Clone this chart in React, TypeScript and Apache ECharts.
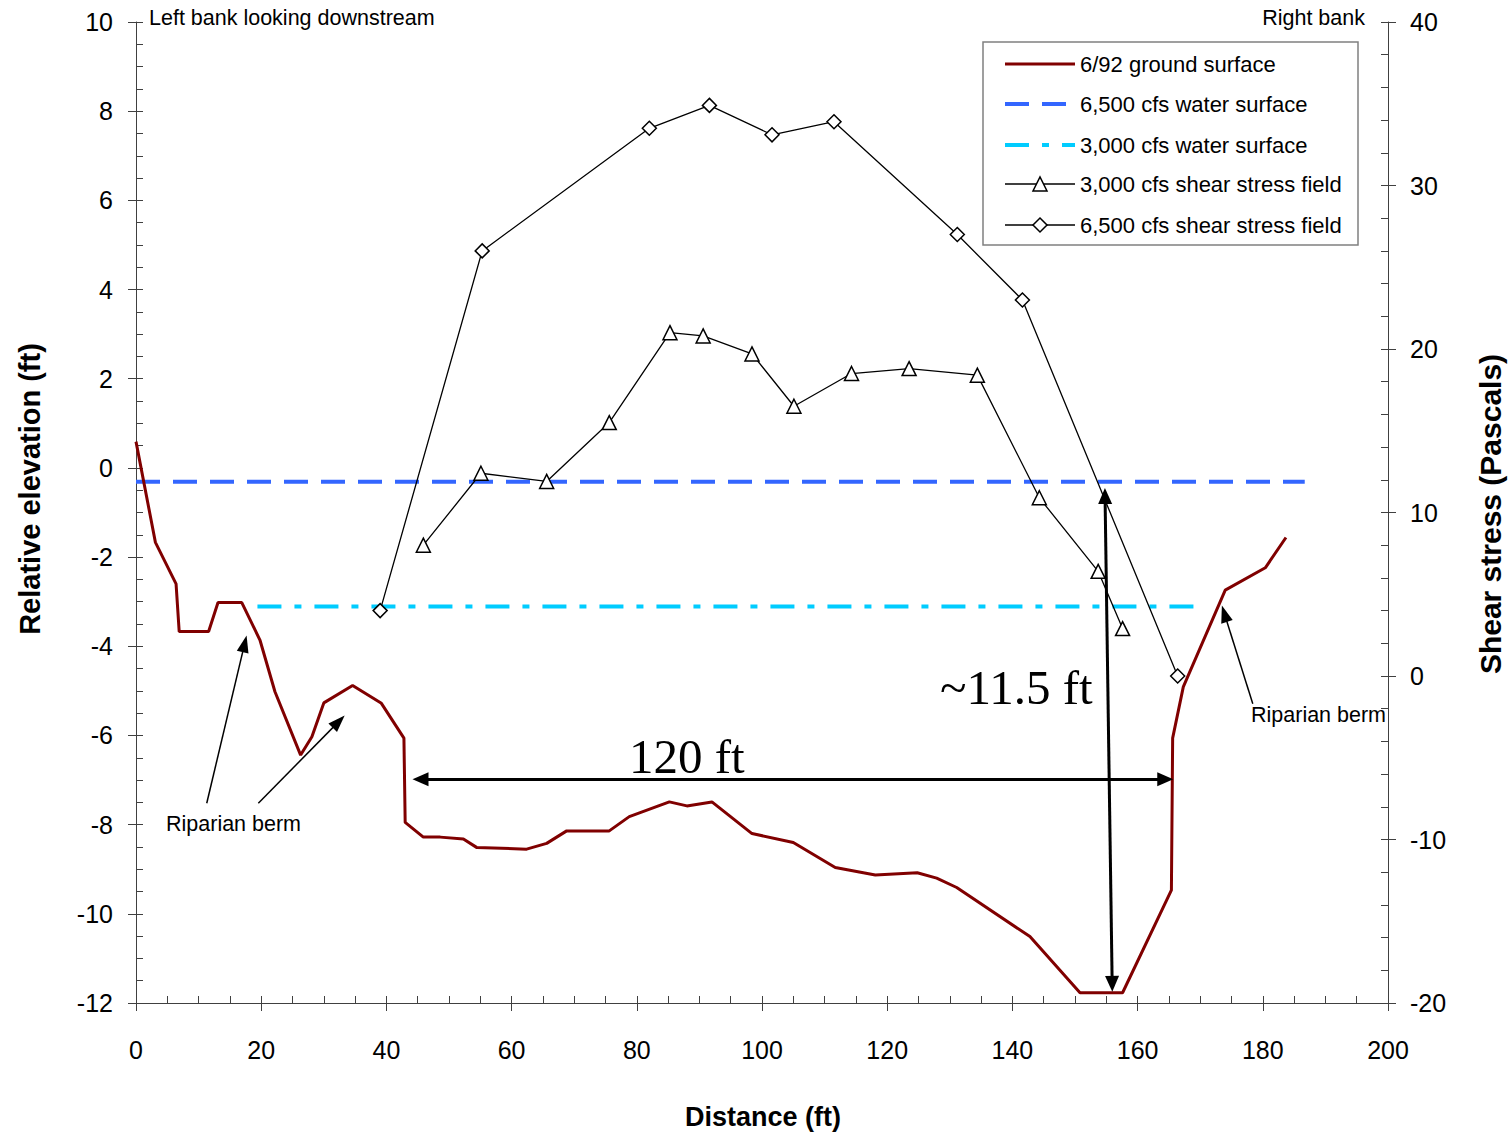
import React, { useEffect, useRef } from 'react';
import * as echarts from 'echarts';

// ---------------- data ----------------
// 6/92 ground surface: [distance (ft), relative elevation (ft)]
const groundSurface: [number, number][] = [
  [0, 0.59], [3.1, -1.67], [6.4, -2.6], [6.9, -3.67], [11.6, -3.67], [13.1, -3.02],
  [16.9, -3.02], [19.8, -3.86], [22.2, -5.02], [26.3, -6.44], [28.1, -6.03], [30.0, -5.27],
  [34.6, -4.88], [39.2, -5.28], [42.8, -6.06], [43.0, -7.95], [45.9, -8.28], [48.6, -8.28],
  [52.3, -8.32], [54.4, -8.51], [62.4, -8.55], [65.6, -8.42], [68.8, -8.14], [75.6, -8.14],
  [78.8, -7.82], [85.2, -7.49], [88.0, -7.58], [92.0, -7.49], [98.4, -8.2], [105.0, -8.4],
  [111.7, -8.96], [118.1, -9.13], [124.8, -9.08], [127.9, -9.2], [131.1, -9.41], [142.8, -10.51],
  [150.8, -11.77], [157.6, -11.77], [165.4, -9.47], [165.6, -6.06], [167.3, -4.91], [174.0, -2.74],
  [180.4, -2.24], [183.7, -1.56],
];

// water surfaces: [distance (ft), elevation (ft)]
const water6500: [number, number][] = [[0, -0.31], [186.7, -0.31]];
const water3000: [number, number][] = [[19.4, -3.11], [170.0, -3.11]];

// shear stress fields: [distance (ft), shear stress (Pa)]
const shear3000: [number, number][] = [
  [45.9, 8.0], [55.1, 12.4], [65.6, 11.9], [75.6, 15.5], [85.3, 21.0], [90.6, 20.8],
  [98.4, 19.7], [105.1, 16.5], [114.3, 18.5], [123.5, 18.8], [134.4, 18.4], [144.3, 10.9],
  [153.7, 6.4], [157.6, 2.9],
];
const shear6500: [number, number][] = [
  [39.0, 4.0], [55.3, 26.0], [82.0, 33.5], [91.6, 34.9], [101.6, 33.1], [111.5, 33.9],
  [131.2, 27.0], [141.6, 23.0], [166.4, 0.0],
];

// annotation arrows in data coordinates (distance, elevation)
const widthArrow: [number, number][] = [[45.45, -6.98], [164.42, -6.98]];
const depthArrow: [number, number][] = [[154.8, -0.63], [155.94, -11.57]];
const bermArrows: [number, number][][] = [
  [[11.3, -7.52], [17.35, -3.945]],
  [[19.54, -7.52], [32.38, -5.69]],
  [[178.4, -5.29], [173.87, -3.27]],
];

const seriesNames = [
  '6/92 ground surface',
  '6,500 cfs water surface',
  '3,000 cfs water surface',
  '3,000 cfs shear stress field',
  '6,500 cfs shear stress field',
];

const xTicks = { min: 0, max: 200, interval: 20 };
const yLeftTicks = { min: -12, max: 10, interval: 2 };
const yRightTicks = { min: -20, max: 40, interval: 10 };

// ---------------- styles ----------------
const SANS = "'Liberation Sans', Arial, Helvetica, sans-serif";
const SERIF = "'Liberation Serif', 'Times New Roman', serif";
const AXIS_COLOR = '#404040';
const C_GROUND = '#800000';
const C_W6500 = '#3366FF';
const C_W3000 = '#00CCFF';
const DASH_6500 = [24, 13];
const DASH_3000 = [24, 13, 7, 13];

function primaryAxisCommon(minorSplit: number, margin: number) {
  return {
    type: 'value',
    axisLine: { show: true, onZero: false, lineStyle: { color: AXIS_COLOR, width: 1 } },
    axisTick: { show: true, inside: true, length: 7, lineStyle: { color: AXIS_COLOR, width: 1 } },
    minorTick: { show: true, splitNumber: minorSplit, length: 7, lineStyle: { color: AXIS_COLOR, width: 1 } },
    axisLabel: { show: true, margin, fontSize: 25, color: '#000', fontFamily: SANS },
    splitLine: { show: false },
    minorSplitLine: { show: false },
  };
}
function overlayAxisCommon() {
  return {
    type: 'value',
    axisLine: { show: false, onZero: false },
    axisTick: { show: true, inside: false, length: 8, lineStyle: { color: AXIS_COLOR, width: 1 } },
    minorTick: { show: false },
    axisLabel: { show: false },
    splitLine: { show: false },
  };
}

function buildLegend() {
  const boxX = 983, boxY = 42, boxW = 375, boxH = 203;
  const rowY = [64, 104, 145, 184, 225];
  const lx0 = 1005, lx1 = 1075, mx = 1040, tx = 1080;
  const els: any[] = [
    {
      type: 'rect', z: 90,
      shape: { x: boxX, y: boxY, width: boxW, height: boxH },
      style: { fill: '#fff', stroke: '#808080', lineWidth: 1.5 },
    },
  ];
  const lineStyles = [
    { stroke: C_GROUND, lineWidth: 3 },
    { stroke: C_W6500, lineWidth: 4, lineDash: DASH_6500 },
    { stroke: C_W3000, lineWidth: 4, lineDash: DASH_3000 },
    { stroke: '#000', lineWidth: 1.3 },
    { stroke: '#000', lineWidth: 1.3 },
  ];
  seriesNames.forEach((name, i) => {
    const y = rowY[i];
    els.push({
      type: 'line', z: 91,
      shape: { x1: lx0, y1: y, x2: lx1, y2: y },
      style: { ...lineStyles[i], lineCap: 'butt' },
    });
    els.push({
      type: 'text', z: 92, x: tx, y,
      style: { text: name, fontSize: 22, fontFamily: SANS, fill: '#000', align: 'left', verticalAlign: 'middle' },
    });
  });
  const h = 7;
  els.push({
    type: 'polygon', z: 93,
    shape: { points: [[mx - h, rowY[3] + h], [mx + h, rowY[3] + h], [mx, rowY[3] - h]] },
    style: { fill: '#fff', stroke: '#000', lineWidth: 1.5 },
  });
  els.push({
    type: 'polygon', z: 93,
    shape: { points: [[mx, rowY[4] - h], [mx + h, rowY[4]], [mx, rowY[4] + h], [mx - h, rowY[4]]] },
    style: { fill: '#fff', stroke: '#000', lineWidth: 1.5 },
  });
  return els;
}

export default function App() {
  const ref = useRef<HTMLDivElement>(null);

  useEffect(() => {
    if (!ref.current) return;
    const chart = echarts.init(ref.current, undefined, { renderer: 'svg' });

    const arrowLine = (pts: [number, number][], width: number, size: number[], both: boolean) => [
      {
        coord: pts[0],
        symbol: both ? 'triangle' : 'none',
        symbolSize: size,
        lineStyle: { color: '#000', width, type: 'solid' },
      },
      { coord: pts[1], symbol: 'triangle', symbolSize: size },
    ];

    const textEl = (text: string, x: number, y: number, size: number, extra: any = {}, font = SANS) => ({
      type: 'text', x, y, z: 100, ...(extra.rotation != null ? { rotation: extra.rotation } : {}),
      style: {
        text, fontSize: size, fontFamily: font, fill: '#000',
        align: extra.align || 'left', verticalAlign: 'middle',
        fontWeight: extra.bold ? 'bold' : 'normal',
      },
    });

    const option: any = {
      animation: false,
      backgroundColor: '#ffffff',
      grid: { left: 136, top: 22, right: 123, bottom: 130, containLabel: false },
      xAxis: [
        { ...primaryAxisCommon(4, 34), ...xTicks, position: 'bottom' },
        { ...overlayAxisCommon(), ...xTicks, position: 'bottom' },
      ],
      yAxis: [
        { ...primaryAxisCommon(4, 23), ...yLeftTicks, position: 'left' },
        { ...primaryAxisCommon(5, 22), ...yRightTicks, position: 'right' },
        { ...overlayAxisCommon(), ...yLeftTicks, position: 'left' },
        { ...overlayAxisCommon(), ...yRightTicks, position: 'right' },
      ],
      series: [
        {
          name: seriesNames[1],
          type: 'line',
          xAxisIndex: 0,
          yAxisIndex: 0,
          data: water6500,
          symbol: 'none',
          silent: true,
          lineStyle: { color: C_W6500, width: 4, type: DASH_6500, cap: 'butt' },
          z: 2,
        },
        {
          name: seriesNames[2],
          type: 'line',
          xAxisIndex: 0,
          yAxisIndex: 0,
          data: water3000,
          symbol: 'none',
          silent: true,
          lineStyle: { color: C_W3000, width: 4, type: DASH_3000, cap: 'butt' },
          z: 2,
        },
        {
          name: seriesNames[0],
          type: 'line',
          xAxisIndex: 0,
          yAxisIndex: 0,
          data: groundSurface,
          symbol: 'none',
          silent: true,
          lineStyle: { color: C_GROUND, width: 3 },
          z: 3,
          markLine: {
            silent: true,
            animation: false,
            label: { show: false },
            emphasis: { disabled: true },
            symbol: ['none', 'triangle'],
            data: [
              arrowLine(widthArrow, 3, [14, 16], true),
              arrowLine(depthArrow, 3, [14, 16], true),
              ...bermArrows.map((a) => arrowLine(a, 1.5, [12, 17], false)),
            ],
          },
        },
        {
          name: seriesNames[3],
          type: 'line',
          xAxisIndex: 0,
          yAxisIndex: 1,
          data: shear3000,
          symbol: 'triangle',
          symbolSize: 14,
          showSymbol: true,
          silent: true,
          itemStyle: { color: '#ffffff', borderColor: '#000', borderWidth: 1.5 },
          lineStyle: { color: '#000', width: 1.3 },
          z: 4,
        },
        {
          name: seriesNames[4],
          type: 'line',
          xAxisIndex: 0,
          yAxisIndex: 1,
          data: shear6500,
          symbol: 'diamond',
          symbolSize: 14,
          showSymbol: true,
          silent: true,
          itemStyle: { color: '#ffffff', borderColor: '#000', borderWidth: 1.5 },
          lineStyle: { color: '#000', width: 1.3 },
          z: 4,
        },
      ],
      graphic: [
        ...buildLegend(),
        textEl('Left bank looking downstream', 149, 18, 21.5),
        textEl('Right bank', 1365, 18, 21.5, { align: 'right' }),
        textEl('Riparian berm', 166, 824, 21.5),
        textEl('Riparian berm', 1251, 715, 21.5),
        textEl('120 ft', 629, 756, 49, {}, SERIF),
        textEl('~11.5 ft', 940, 687, 49, {}, SERIF),
        textEl('Relative elevation (ft)', 30, 489, 29, { rotation: Math.PI / 2, align: 'center', bold: true }),
        textEl('Shear stress (Pascals)', 1490, 514, 30, { rotation: Math.PI / 2, align: 'center', bold: true }),
        textEl('Distance (ft)', 763, 1117, 27, { align: 'center', bold: true }),
      ],
    };

    chart.setOption(option);
    return () => {
      chart.dispose();
    };
  }, []);

  return (
    <div
      ref={ref}
      style={{ position: 'fixed', left: 0, top: 0, width: 1511, height: 1133, background: '#fff' }}
    />
  );
}
